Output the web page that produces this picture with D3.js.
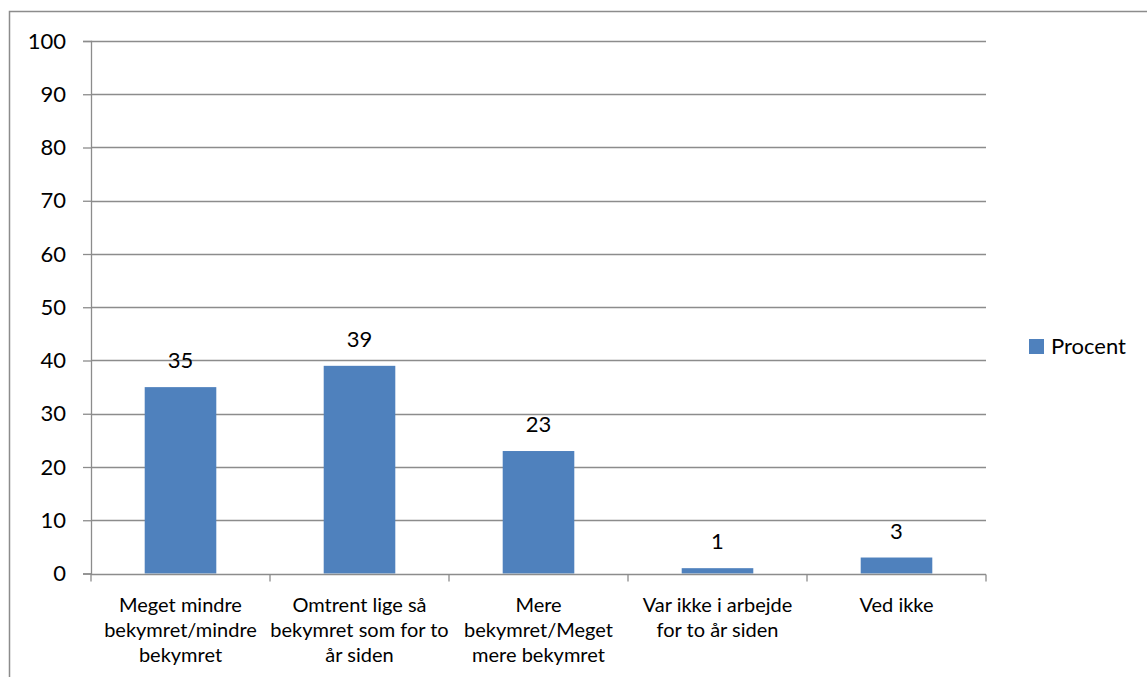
<!DOCTYPE html>
<html>
<head>
<meta charset="utf-8">
<script src="https://cdn.jsdelivr.net/npm/d3@7"></script>
<style>
  body { margin: 0; background: #fff; }
  svg text { font-family: Lato, "Open Sans", sans-serif; fill: #000; }
</style>
</head>
<body>
<div id="chart"></div>
<script>
var categories = [
  ["Meget mindre", "bekymret/mindre", "bekymret"],
  ["Omtrent lige så", "bekymret som for to", "år siden"],
  ["Mere", "bekymret/Meget", "mere bekymret"],
  ["Var ikke i arbejde", "for to år siden"],
  ["Ved ikke"]
];
var values = [35, 39, 23, 1, 3];
var yTicks = [0, 10, 20, 30, 40, 50, 60, 70, 80, 90, 100];
var seriesName = "Procent";

var width = 1147, height = 677;
var plotLeft = 91, plotRight = 986, plotTop = 41, plotBottom = 573.5;

var svg = d3.select('#chart').append('svg')
    .attr('width', width)
    .attr('height', height);

// outer frame
svg.append('rect')
    .attr('x', 9.5).attr('y', 11.5)
    .attr('width', 1200).attr('height', 800)
    .attr('fill', 'none')
    .attr('stroke', '#8c8c8c')
    .attr('stroke-width', 1.5);

var x = d3.scaleBand()
    .domain(d3.range(categories.length))
    .range([plotLeft, plotRight])
    .paddingInner(0.6)
    .paddingOuter(0.3);

var band = d3.scaleBand()
    .domain(d3.range(categories.length))
    .range([plotLeft, plotRight]);

var y = d3.scaleLinear()
    .domain([0, 100])
    .range([plotBottom, plotTop]);

// gridlines
svg.append('g')
  .selectAll('line')
  .data(yTicks.filter(function(d) { return d > 0; }))
  .enter().append('line')
    .attr('x1', plotLeft).attr('x2', plotRight)
    .attr('y1', function(d) { return Math.round(y(d)) + 0.5; })
    .attr('y2', function(d) { return Math.round(y(d)) + 0.5; })
    .attr('stroke', '#8c8c8c')
    .attr('stroke-width', 1.3);

// bars
svg.append('g')
  .selectAll('rect')
  .data(values)
  .enter().append('rect')
    .attr('x', function(d, i) { return x(i); })
    .attr('y', function(d) { return y(d); })
    .attr('width', x.bandwidth())
    .attr('height', function(d) { return y(0) - y(d); })
    .attr('fill', '#4f81bd');

// value labels
svg.append('g')
  .selectAll('text')
  .data(values)
  .enter().append('text')
    .attr('x', function(d, i) { return x(i) + x.bandwidth() / 2; })
    .attr('y', function(d) { return y(d) - 19; })
    .attr('text-anchor', 'middle')
    .style('font-size', '22px')
    .text(function(d) { return d; });

// y axis
var yAxis = svg.append('g')
    .attr('transform', 'translate(' + plotLeft + ',0)')
    .call(d3.axisLeft(y).tickValues(yTicks).tickSize(8).tickPadding(17));
yAxis.selectAll('line').attr('stroke', '#8c8c8c').attr('stroke-width', 1.3);
yAxis.select('.domain').attr('stroke', '#8c8c8c').attr('stroke-width', 1.3);
yAxis.selectAll('text').style('font-size', '22px').attr('fill', '#000');

// x axis
var y0 = Math.round(y(0)) + 0.5;
svg.append('line')
    .attr('x1', plotLeft).attr('x2', plotRight)
    .attr('y1', y0).attr('y2', y0)
    .attr('stroke', '#8c8c8c').attr('stroke-width', 1.3);

svg.append('g')
  .selectAll('line')
  .data(d3.range(categories.length + 1))
  .enter().append('line')
    .attr('x1', function(d) { return d < categories.length ? band(d) : band(d - 1) + band.bandwidth(); })
    .attr('x2', function(d) { return d < categories.length ? band(d) : band(d - 1) + band.bandwidth(); })
    .attr('y1', y0).attr('y2', y0 + 7)
    .attr('stroke', '#8c8c8c').attr('stroke-width', 1.3);

// category labels
var catLabels = svg.append('g')
  .selectAll('text')
  .data(categories)
  .enter().append('text')
    .attr('x', function(d, i) { return band(i) + band.bandwidth() / 2; })
    .attr('y', y0 + 37)
    .attr('text-anchor', 'middle')
    .style('font-size', '20px');

catLabels.selectAll('tspan')
  .data(function(d) { return d; })
  .enter().append('tspan')
    .attr('x', function() { return d3.select(this.parentNode).attr('x'); })
    .attr('dy', function(d, i) { return i === 0 ? 0 : 25; })
    .text(function(d) { return d; });

// legend
var legend = svg.append('g')
    .attr('transform', 'translate(1029,339)');
legend.append('rect')
    .attr('width', 15).attr('height', 15)
    .attr('fill', '#4f81bd');
legend.append('text')
    .attr('x', 22).attr('y', 15)
    .style('font-size', '22px')
    .text(seriesName);
</script>
</body>
</html>
